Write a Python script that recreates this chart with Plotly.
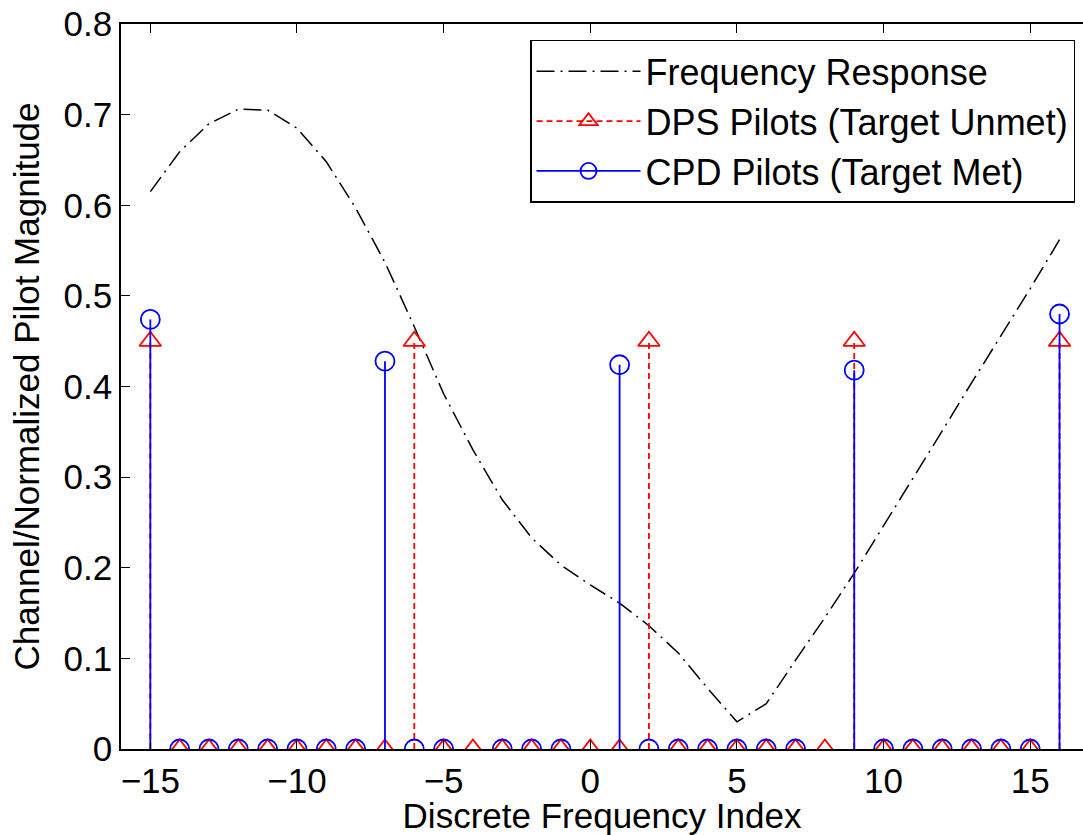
import plotly.graph_objects as go

# ---------------- data ----------------
freq_x = list(range(-15, 17))
freq_resp = [0.615, 0.659, 0.690, 0.706, 0.705, 0.685, 0.648, 0.597, 0.537, 0.466,
             0.392, 0.330, 0.275, 0.233, 0.203, 0.181, 0.161, 0.136, 0.106, 0.067,
             0.030, 0.050, 0.098, 0.145, 0.194, 0.246, 0.299, 0.351, 0.404, 0.456,
             0.508, 0.562]

dps_x = list(range(-15, 17))
dps_y = [0.45, 0, 0, 0, 0, 0, 0, 0, 0, 0.45,
         0, 0, 0, 0, 0, 0, 0, 0.45, 0, 0,
         0, 0, 0, 0, 0.45, 0, 0, 0, 0, 0,
         0, 0.45]

cpd_x = [-15, -14, -13, -12, -11, -10, -9, -8, -7, -6, -5, -3, -2, -1,
         1, 2, 3, 4, 5, 6, 7, 9, 10, 11, 12, 13, 14, 15, 16]
cpd_y = [0.474, 0, 0, 0, 0, 0, 0, 0, 0.428, 0, 0, 0, 0, 0,
         0.424, 0, 0, 0, 0, 0, 0, 0.418, 0, 0, 0, 0, 0, 0, 0.480]

y_ticks = [0, 0.1, 0.2, 0.3, 0.4, 0.5, 0.6, 0.7, 0.8]
y_ticktext = ["0", "0.1", "0.2", "0.3", "0.4", "0.5", "0.6", "0.7", "0.8"]
x_ticks = [-15, -10, -5, 0, 5, 10, 15]

FONT = "'Liberation Sans', Arial, Helvetica, sans-serif"
FS = 35


def stem_segments(xs, ys):
    sx, sy = [], []
    for x, y in zip(xs, ys):
        sx += [x, x, None]
        sy += [0, y, None]
    return sx, sy


fig = go.Figure()

# frequency response
fig.add_trace(go.Scatter(
    x=freq_x, y=freq_resp, mode="lines", name="Frequency Response",
    line=dict(color="black", width=1.5, dash="18px,6px,2px,6px"),
    legendrank=1))

# DPS stems
sx, sy = stem_segments(dps_x, dps_y)
fig.add_trace(go.Scatter(x=sx, y=sy, mode="lines", showlegend=False,
                         line=dict(color="red", width=1.8, dash="6px,4px")))
fig.add_trace(go.Scatter(x=dps_x, y=dps_y, mode="markers", showlegend=False,
                         marker=dict(symbol="triangle-up-open", size=19,
                                     color="red", line=dict(width=1.8, color="red"))))

# CPD stems
sx, sy = stem_segments(cpd_x, cpd_y)
fig.add_trace(go.Scatter(x=sx, y=sy, mode="lines", showlegend=False,
                         line=dict(color="blue", width=1.8)))
fig.add_trace(go.Scatter(x=cpd_x, y=cpd_y, mode="markers", showlegend=False,
                         marker=dict(symbol="circle-open", size=19,
                                     color="blue", line=dict(width=1.8, color="blue"))))

# legend entries
fig.add_trace(go.Scatter(x=[None], y=[None], mode="lines+markers",
                         name="DPS Pilots (Target Unmet)", legendrank=2,
                         line=dict(color="red", width=1.8, dash="6px,4px"),
                         marker=dict(symbol="triangle-up-open", size=19, color="red",
                                     line=dict(width=1.8, color="red"))))
fig.add_trace(go.Scatter(x=[None], y=[None], mode="lines+markers",
                         name="CPD Pilots (Target Met)", legendrank=3,
                         line=dict(color="blue", width=1.8),
                         marker=dict(symbol="circle-open", size=19, color="blue",
                                     line=dict(width=1.8, color="blue"))))

fig.update_layout(
    width=1083, height=835,
    margin=dict(l=121, r=0, t=24, b=86),
    paper_bgcolor="white", plot_bgcolor="white",
    font=dict(family=FONT, size=FS, color="black"),
    showlegend=True,
    legend=dict(x=0.9917, xanchor="right", y=0.978, yanchor="top",
                bgcolor="white", bordercolor="black", borderwidth=1.5,
                font=dict(size=36), itemwidth=104, tracegroupgap=0),
    xaxis=dict(range=[-16, 16.8], tickvals=x_ticks, ticks="inside", ticklen=9,
               tickwidth=1, tickcolor="black", showline=True, linecolor="black",
               linewidth=1.5, mirror="ticks", showgrid=False, zeroline=False,
               title=dict(text="Discrete Frequency Index", standoff=10,
                          font=dict(size=35)),
               tickfont=dict(size=FS)),
    yaxis=dict(range=[0, 0.8], tickvals=y_ticks, ticktext=y_ticktext,
               ticks="inside", ticklen=9, tickwidth=1, tickcolor="black",
               showline=True, linecolor="black", linewidth=1.5, mirror=False,
               showgrid=False, zeroline=False,
               title=dict(text="Channel/Normalized Pilot Magnitude", standoff=13,
                          font=dict(size=35)),
               tickfont=dict(size=FS)),
    yaxis2=dict(range=[0, 0.8], overlaying="y", side="right", tickvals=y_ticks,
                ticks="inside", ticklen=3, tickwidth=1, tickcolor="black",
                showticklabels=False, showline=False, showgrid=False, zeroline=False),
)

fig.write_html("out.html")
